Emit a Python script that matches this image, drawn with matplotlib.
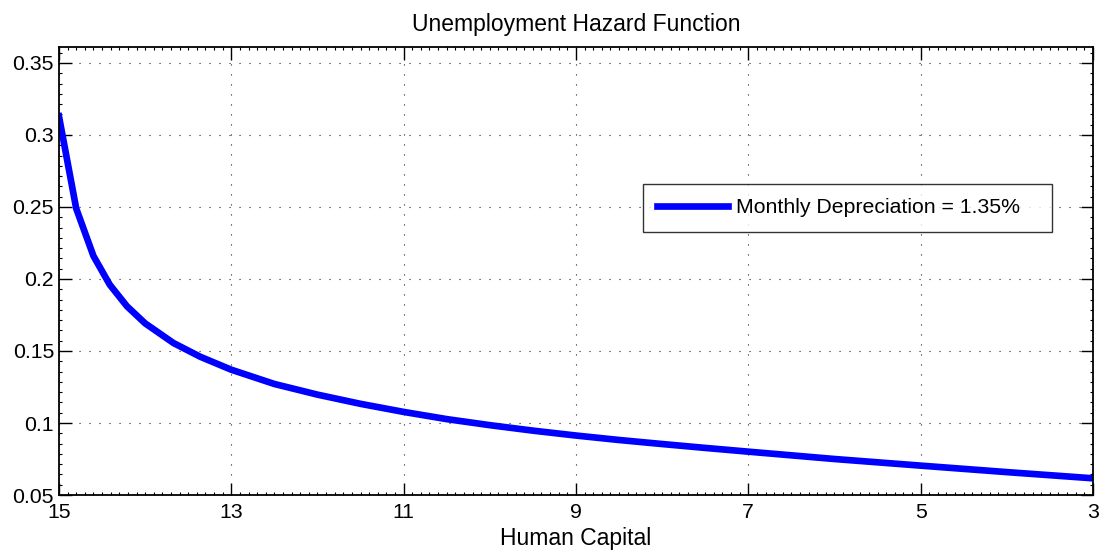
import numpy as np
import matplotlib.pyplot as plt
from matplotlib.ticker import AutoMinorLocator

plt.rcParams['font.family'] = ['Liberation Sans', 'DejaVu Sans']

# human capital (x) and unemployment hazard (y)
capital = [15.0, 14.80, 14.60, 14.41, 14.21, 14.0, 13.67, 13.36, 13.0, 12.5,
           12.0, 11.5, 11.0, 10.5, 10.0, 9.5, 9.0, 8.5, 8.0, 7.5, 7.0,
           6.0, 5.0, 4.0, 3.0]
hazard = [0.313, 0.249, 0.216, 0.196, 0.181, 0.1692, 0.1555, 0.1460, 0.1370, 0.1271,
          0.1197, 0.1133, 0.1077, 0.1027, 0.0985, 0.0947, 0.0913, 0.0882, 0.0854,
          0.0827, 0.0801, 0.0750, 0.0704, 0.0659, 0.0616]
series_label = 'Monthly Depreciation = 1.35%'

xticks = [15, 13, 11, 9, 7, 5, 3]
yticks = [0.05, 0.1, 0.15, 0.2, 0.25, 0.3, 0.35]
ytick_labels = ['0.05', '0.1', '0.15', '0.2', '0.25', '0.3', '0.35']

fig = plt.figure(figsize=(11.02, 5.56), dpi=100)
ax = fig.add_axes([0.0535, 0.1097, 0.9383, 0.8063])

ax.plot(capital, hazard, color='#0000ff', linewidth=4.8, label=series_label)

ax.set_xlim(15, 3)
ax.set_ylim(0.05, 0.3613)
ax.set_xticks(xticks)
ax.set_xticklabels([str(t) for t in xticks])
ax.set_yticks(yticks)
ax.set_yticklabels(ytick_labels)
ax.xaxis.set_minor_locator(AutoMinorLocator(20))
ax.yaxis.set_minor_locator(AutoMinorLocator(7))

ax.tick_params(which='both', direction='in', top=True, right=True, labelsize=15.3, width=1)
ax.tick_params(which='major', length=9)
ax.tick_params(which='minor', length=2, width=0.8)
ax.tick_params(axis='x', pad=6)
for s in ax.spines.values():
    s.set_linewidth(1.3)

ax.grid(True, which='major', color='#222222', linestyle=(0, (1, 8)), linewidth=0.8)

ax.set_title('Unemployment Hazard Function', fontsize=16.5, pad=11)
ax.set_xlabel('Human Capital', fontsize=16.5, labelpad=3)

leg = ax.legend(loc='upper left', bbox_to_anchor=(0.5648, 0.5867, 0.3955, 0.107),
                mode='expand', borderaxespad=0, fontsize=15.3,
                frameon=True, fancybox=False, borderpad=0.68, handlelength=3.3,
                handletextpad=0.38)
leg.get_frame().set_edgecolor('black')
leg.get_frame().set_linewidth(1.0)

plt.savefig('out.png', dpi=100)
